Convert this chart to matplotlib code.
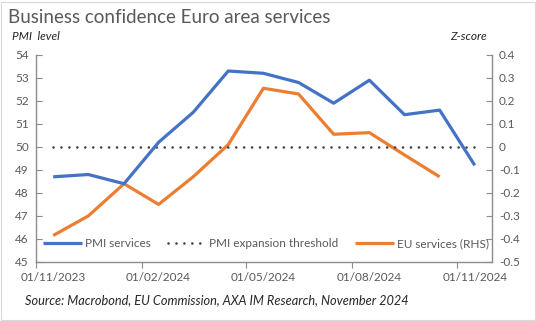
import numpy as np
import pandas as pd
import matplotlib
matplotlib.use('Agg')
import matplotlib.pyplot as plt
from matplotlib.patches import Rectangle

plt.rcParams['font.family'] = ['Lato', 'DejaVu Sans']

# monthly data, Nov 2023 - Nov 2024
months = pd.date_range('2023-11-01', periods=13, freq='MS')
pmi_services = [48.7, 48.8, 48.4, 50.2, 51.5, 53.3, 53.2, 52.8, 51.9, 52.9, 51.4, 51.6, 49.2]
pmi_threshold = [50] * 13
eu_services = [-0.385, -0.30, -0.16, -0.25, -0.13, 0.01, 0.255, 0.23, 0.055, 0.062, -0.035, -0.13]

tick_dates = ['2023-11-01', '2024-02-01', '2024-05-01', '2024-08-01', '2024-11-01']

# points (and date labels) sit in the middle of each month
next_month = months + pd.offsets.MonthBegin(1)
mid = months + (next_month - months) / 2

blue = '#4472C4'
orange = '#ED7D31'
grey_txt = '#595959'
axis_col = '#8c8c8c'

fig = plt.figure(figsize=(5.36, 3.21), dpi=100)
fig.add_artist(Rectangle((0.002, 0.003), 0.996, 0.992, transform=fig.transFigure,
                         fill=False, edgecolor='#d9d9d9', lw=0.8))

ax = fig.add_axes([0.067, 0.184, 0.851, 0.645])
ax2 = ax.twinx()

l1, = ax.plot(mid, pmi_services, color=blue, lw=2.3, solid_capstyle='butt', label='PMI services', zorder=3)
l2, = ax.plot(mid, pmi_threshold, color='#404040', lw=1.9, linestyle=(0, (0.01, 3.0)),
              dash_capstyle='round', label='PMI expansion threshold', zorder=2)
l3, = ax2.plot(mid[:len(eu_services)], eu_services, color=orange, lw=2.3, solid_capstyle='butt',
               label='EU services (RHS)')

ax.set_zorder(ax2.get_zorder() + 1)
ax.patch.set_visible(False)

ax.set_xlim(pd.Timestamp('2023-11-01'), pd.Timestamp('2024-12-01'))
ax.set_ylim(45, 54)
ax.set_yticks(np.arange(45, 55, 1))
ax2.set_ylim(-0.5, 0.4)
rhs_ticks = np.round(np.arange(-0.5, 0.41, 0.1), 1)
ax2.set_yticks(rhs_ticks)
ax2.set_yticklabels(['0' if v == 0 else f'{v:.1f}' for v in rhs_ticks])

# tick marks on month starts, labels centred on those months
tick_pos = pd.to_datetime(tick_dates)
ax.set_xticks(tick_pos)
ax.set_xticklabels([])
label_pos = tick_pos + (tick_pos + pd.offsets.MonthBegin(1) - tick_pos) / 2
ax.set_xticks(label_pos, minor=True)
ax.set_xticklabels([d.strftime('%d/%m/%Y') for d in tick_pos], minor=True)

for a in (ax, ax2):
    for s in a.spines.values():
        s.set_visible(False)
ax.spines['left'].set_visible(True)
ax.spines['bottom'].set_visible(True)
ax2.spines['right'].set_visible(True)
for s in (ax.spines['left'], ax.spines['bottom'], ax2.spines['right']):
    s.set_color(axis_col)
    s.set_linewidth(1.0)

ax.tick_params(axis='y', direction='in', length=4, color=axis_col, labelcolor=grey_txt,
               labelsize=8.5, pad=5)
ax.tick_params(axis='x', which='major', direction='out', length=4, color=axis_col)
ax.tick_params(axis='x', which='minor', length=0, labelcolor=grey_txt, labelsize=8.5, pad=7)
ax2.tick_params(axis='y', direction='in', length=4, color=axis_col, labelcolor=grey_txt,
                labelsize=8.5, pad=5)

leg = ax.legend(handles=[l1, l2, l3], loc='center', bbox_to_anchor=(0.505, 0.087), ncol=3,
                frameon=False, fontsize=8.5, handlelength=3.3, handletextpad=0.25,
                columnspacing=1.4, borderaxespad=0)
for t in leg.get_texts():
    t.set_color(grey_txt)

fig.text(0.015, 0.945, 'Business confidence Euro area services', fontsize=13.5,
         color='#595959', va='center', ha='left')
fig.text(0.022, 0.885, 'PMI  level', fontsize=8.6, style='italic', color='#262626', va='center')
fig.text(0.909, 0.885, 'Z-score', fontsize=8.6, style='italic', color='#262626', va='center', ha='right')
fig.text(0.047, 0.065, 'Source: Macrobond, EU Commission, AXA IM Research, November 2024',
         fontsize=9.2, style='italic', color='#262626', va='center')

fig.savefig('out.png', dpi=100)
